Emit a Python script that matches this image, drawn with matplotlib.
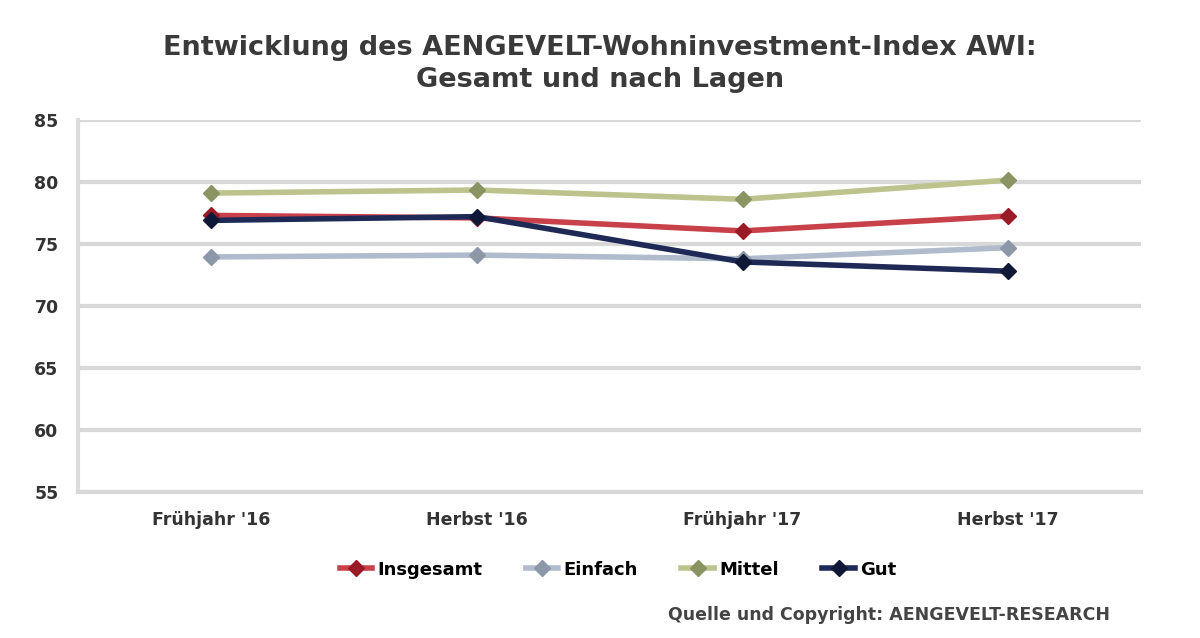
import matplotlib
matplotlib.use("Agg")
import matplotlib.pyplot as plt

categories = ["Frühjahr '16", "Herbst '16", "Frühjahr '17", "Herbst '17"]
insgesamt = [77.3, 77.1, 76.05, 77.25]
einfach = [73.95, 74.1, 73.8, 74.7]
mittel = [79.1, 79.35, 78.6, 80.15]
gut = [76.9, 77.2, 73.55, 72.8]
yticks = [55, 60, 65, 70, 75, 80, 85]

plt.rcParams['font.family'] = ['DejaVu Sans']

fig = plt.figure(figsize=(12, 6.38), dpi=100)
ax = fig.add_axes([0.065, 0.229, 0.886, 0.583])

x = list(range(len(categories)))
series = [
    ("Insgesamt", insgesamt, "#c8404a", "#9a1a25"),
    ("Einfach", einfach, "#b0bccc", "#8c98a8"),
    ("Mittel", mittel, "#bcc38c", "#8a9462"),
    ("Gut", gut, "#1e2a55", "#101838"),
]
order = [2, 0, 1, 3]
handles = {}
for i in order:
    name, vals, col, mcol = series[i]
    h, = ax.plot(x, vals, color=col, lw=4, marker='D', ms=8,
                 mfc=mcol, mec=mcol, label=name, zorder=3 + i)
    handles[name] = h

ax.set_xlim(-0.5, 3.5)
ax.set_ylim(55, 85)
ax.set_yticks(yticks)
ax.set_yticklabels([str(v) for v in yticks], fontsize=12.5, fontweight='bold', color='#333333')
ax.set_xticks(x)
ax.set_xticklabels(categories, fontsize=12.5, fontweight='bold', color='#333333')
ax.tick_params(length=0, pad=14)
ax.tick_params(axis='x', pad=14)
ax.grid(axis='y', color='#d8d8d8', lw=3)
ax.set_axisbelow(True)
for s in ['top', 'right']:
    ax.spines[s].set_visible(False)
ax.spines['left'].set_color('#dddddd')
ax.spines['left'].set_linewidth(3)
ax.spines['bottom'].set_color('#d8d8d8')
ax.spines['bottom'].set_linewidth(3)

fig.text(0.5, 0.9, "Entwicklung des AENGEVELT-Wohninvestment-Index AWI:\nGesamt und nach Lagen",
         ha='center', va='center', fontsize=19.5, fontweight='bold', color='#3a3a3a',
         linespacing=1.3)

names = ["Insgesamt", "Einfach", "Mittel", "Gut"]
fig.legend([handles[n] for n in names], names, loc='center', bbox_to_anchor=(0.515, 0.107),
           ncol=4, frameon=False, handlelength=1.8, columnspacing=2.4,
           handletextpad=0.3, prop={'weight': 'bold', 'size': 13})

fig.text(0.925, 0.036, "Quelle und Copyright: AENGEVELT-RESEARCH", ha='right', va='center',
         fontsize=12.5, fontweight='bold', color='#444444')

fig.savefig("out.png", dpi=100, facecolor='white')
